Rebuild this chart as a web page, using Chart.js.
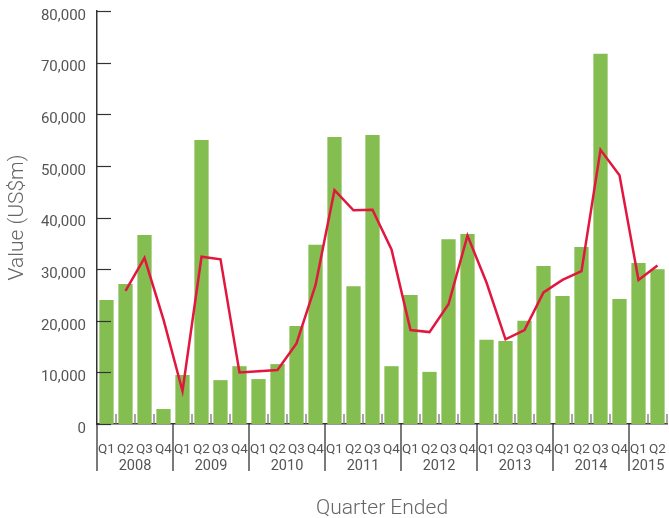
<!DOCTYPE html>
<html>
<head>
<meta charset="utf-8">
<script src="https://cdn.jsdelivr.net/npm/chart.js@4.4.0/dist/chart.umd.min.js"></script>
<style>
  html, body { margin: 0; padding: 0; background: #fff; }
  #wrap { width: 669px; height: 518px; }
</style>
</head>
<body>
<div id="wrap"><canvas id="chart"></canvas></div>
<script>
// quarter labels along the x axis
const quarterLabels = [
  'Q1','Q2','Q3','Q4', 'Q1','Q2','Q3','Q4', 'Q1','Q2','Q3','Q4', 'Q1','Q2','Q3','Q4',
  'Q1','Q2','Q3','Q4', 'Q1','Q2','Q3','Q4', 'Q1','Q2','Q3','Q4', 'Q1','Q2'
];
// year groups under the quarters, and how many quarters each one spans
const yearLabels = ['2008','2009','2010','2011','2012','2013','2014','2015'];
const yearSpans = [4, 4, 4, 4, 4, 4, 4, 2];

// quarterly value (US$m)
const quarterValues = [
  24000, 27100, 36600, 2900,
  9500, 55000, 8500, 11200,
  8700, 11600, 19000, 34700,
  55600, 26700, 56000, 11200,
  25000, 10100, 35800, 36800,
  16300, 16100, 20000, 30600,
  24800, 34300, 71700, 24200,
  31200, 30000
];
// red line (average)
const averageValues = [
  null, 25800, 32200, 20200,
  6400, 32400, 31900, 10000,
  10200, 10450, 15600, 26900,
  45300, 41400, 41500, 33800,
  18200, 17800, 23200, 36500,
  27400, 16400, 18200, 25500,
  27900, 29600, 53100, 48200,
  27900, 30700
];

const yTicks = [0, 10000, 20000, 30000, 40000, 50000, 60000, 70000, 80000];

const textFont = "Roboto, 'Liberation Sans', sans-serif";
const axisColor = '#333333';
const tickColor = '#555555';

// axis decorations: inward y ticks, small category ticks, year separators and year labels
const axisDecor = {
  id: 'axisDecor',
  afterDraw(chart) {
    const c = chart.ctx;
    const x = chart.scales.x;
    const y = chart.scales.y;
    const area = chart.chartArea;
    c.save();

    // y ticks pointing into the plot
    c.strokeStyle = axisColor;
    c.lineWidth = 1.2;
    yTicks.forEach(v => {
      const py = Math.round(y.getPixelForValue(v)) + 0.5;
      c.beginPath();
      c.moveTo(area.left, py);
      c.lineTo(area.left + 14, py);
      c.stroke();
    });

    // category boundary ticks and year separators
    const step = x.getPixelForValue(1) - x.getPixelForValue(0);
    const boundaries = new Set();
    let idx = 0;
    yearSpans.forEach(n => { boundaries.add(idx); idx += n; });
    for (let i = 1; i <= quarterLabels.length; i++) {
      const px = x.getPixelForValue(i) - step / 2;
      if (boundaries.has(i)) continue;
      c.strokeStyle = '#777777';
      c.lineWidth = 1.3;
      c.beginPath();
      c.moveTo(px, area.bottom);
      c.lineTo(px, area.bottom - 10);
      c.stroke();
    }
    c.strokeStyle = axisColor;
    c.lineWidth = 1.3;
    boundaries.forEach(i => {
      const px = x.getPixelForValue(i) - step / 2;
      c.beginPath();
      c.moveTo(px, area.bottom);
      c.lineTo(px, area.bottom + 47);
      c.stroke();
    });

    // year labels centred under their quarters
    c.fillStyle = tickColor;
    c.font = '14.5px ' + textFont;
    c.textAlign = 'center';
    c.textBaseline = 'middle';
    idx = 0;
    yearLabels.forEach((yr, k) => {
      const first = x.getPixelForValue(idx);
      const last = x.getPixelForValue(idx + yearSpans[k] - 1);
      c.fillText(yr, (first + last) / 2, area.bottom + 42);
      idx += yearSpans[k];
    });
    c.restore();
  }
};

const ctx = document.getElementById('chart').getContext('2d');
const chart = new Chart(ctx, {
  type: 'bar',
  data: {
    labels: quarterLabels,
    datasets: [
      {
        type: 'line',
        label: 'Average',
        data: averageValues,
        borderColor: '#e2173f',
        borderWidth: 2.5,
        pointRadius: 0,
        tension: 0,
        fill: false,
        order: 0
      },
      {
        type: 'bar',
        label: 'Value',
        data: quarterValues,
        backgroundColor: '#84bd50',
        barPercentage: 0.75,
        categoryPercentage: 1,
        order: 1
      }
    ]
  },
  options: {
    responsive: true,
    maintainAspectRatio: false,
    animation: false,
    layout: { padding: { top: 11, right: 2, left: 0, bottom: 0 } },
    plugins: { legend: { display: false }, tooltip: { enabled: false } },
    scales: {
      x: {
        grid: { display: false, drawTicks: false },
        border: { display: true, color: axisColor, width: 1.5 },
        ticks: {
          color: tickColor,
          font: { family: textFont, size: 13.5 },
          maxRotation: 0,
          autoSkip: false,
          padding: 18
        },
        title: {
          display: true,
          text: 'Quarter Ended',
          color: '#666666',
          font: { family: textFont, size: 21, weight: '300' },
          padding: { top: 0, bottom: -3 }
        },
        afterFit(scale) {
          scale.height = 94;
          scale.paddingLeft = 0;
          scale.paddingRight = 0;
        }
      },
      y: {
        min: 0,
        max: 80000,
        grid: { display: false, drawTicks: false },
        border: { display: true, color: axisColor, width: 1.5 },
        ticks: {
          stepSize: 10000,
          color: tickColor,
          font: { family: textFont, size: 15 },
          padding: 11,
          labelOffset: 5,
          callback: v => v.toLocaleString('en-US')
        },
        title: {
          display: true,
          text: 'Value (US$m)',
          color: '#666666',
          font: { family: textFont, size: 21, weight: '300' },
          padding: { top: 5, bottom: 0 }
        },
        afterFit(scale) {
          scale.width = 97;
          scale.paddingTop = 0;
          scale.paddingBottom = 0;
        }
      }
    }
  },
  plugins: [axisDecor]
});
</script>
</body>
</html>
